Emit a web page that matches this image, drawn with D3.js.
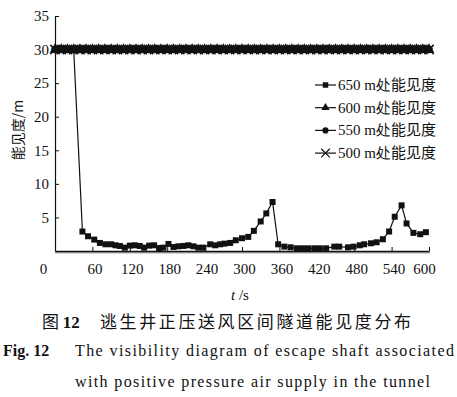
<!DOCTYPE html>
<html>
<head>
<meta charset="utf-8">
<script src="https://cdn.jsdelivr.net/npm/d3@7"></script>
<style>
  body { margin: 0; background: #fff; }
  svg text { fill: #111; }
</style>
</head>
<body>
<svg width="457" height="397"></svg>
<script>
// Data
const time650 = [0, 10, 20, 30, 44, 53, 63, 72, 81, 90, 97, 104, 112, 120, 128, 136, 143, 151, 159, 167, 174, 182,
  190, 198, 206, 214, 222, 230, 238, 249, 257, 265, 272, 281, 290, 300, 310, 319, 330, 339, 349, 358, 368, 378,
  388, 397, 406, 416, 425, 435, 448, 456, 470, 479, 489, 496, 507, 516, 526, 536, 545, 556, 564, 575, 586, 595];
const vis650 = [30, 30, 30, 30, 2.9, 2.2, 1.7, 1.2, 1.0, 1.0, 0.85, 0.75, 0.5, 0.8, 0.85, 0.75, 0.5, 0.8, 0.85, 0.45, 0.5, 1.05,
  0.6, 0.7, 0.75, 0.85, 0.7, 0.5, 0.5, 1.0, 0.85, 1.0, 1.1, 1.2, 1.6, 1.9, 2.1, 3.0, 4.4, 5.6, 7.3, 1.0, 0.65, 0.55,
  0.4, 0.4, 0.4, 0.4, 0.4, 0.4, 0.65, 0.65, 0.55, 0.65, 0.85, 1.0, 1.15, 1.3, 1.75, 2.9, 5.1, 6.8, 4.1, 2.7, 2.5, 2.8];

const timeAll = [0, 10, 20, 30, 40, 50, 60, 70, 80, 90, 100, 110, 120, 130, 140, 150, 160, 170, 180, 190, 200,
  210, 220, 230, 240, 250, 260, 270, 280, 290, 300, 310, 320, 330, 340, 350, 360, 370, 380, 390, 400,
  410, 420, 430, 440, 450, 460, 470, 480, 490, 500, 510, 520, 530, 540, 550, 560, 570, 580, 590, 600];
const vis600 = [30, 30, 30, 30, 30, 30, 30, 30, 30, 30, 30, 30, 30, 30, 30, 30, 30, 30, 30, 30, 30,
  30, 30, 30, 30, 30, 30, 30, 30, 30, 30, 30, 30, 30, 30, 30, 30, 30, 30, 30, 30,
  30, 30, 30, 30, 30, 30, 30, 30, 30, 30, 30, 30, 30, 30, 30, 30, 30, 30, 30, 30];
const vis550 = vis600.slice();
const vis500 = vis600.slice();

const xTicks = [0, 60, 120, 180, 240, 300, 360, 420, 480, 540, 600];
const yTicks = [5, 10, 15, 20, 25, 30, 35];
const legendLabels = ["650 m处能见度", "600 m处能见度", "550 m处能见度", "500 m处能见度"];

const svg = d3.select("svg");
const serif = "'Liberation Serif', 'Times New Roman', serif";
const cjk = "'Noto Sans CJK SC', sans-serif";

// Scales
const x = d3.scaleLinear().domain([0, 600]).range([55, 429]);
const y = d3.scaleLinear().domain([0, 35]).range([251, 16]);

// Axes
svg.append("line")
  .attr("x1", 55).attr("x2", 430).attr("y1", 252.5).attr("y2", 252.5)
  .attr("stroke", "#aaa").attr("stroke-width", 2);

const xAxis = svg.append("g")
  .attr("transform", "translate(0,251)")
  .call(d3.axisBottom(x).tickValues(xTicks).tickSizeInner(-4).tickSizeOuter(0).tickPadding(12));
xAxis.select(".domain").attr("stroke", "#111").attr("stroke-width", 1.5);
xAxis.selectAll(".tick line").attr("stroke", "#111");
xAxis.selectAll(".tick text")
  .attr("font-family", serif).attr("font-size", 15).attr("fill", "#111")
  .attr("dx", d => d === 0 ? -12 : (d === 600 ? -5 : 2));

const yAxis = svg.append("g")
  .attr("transform", "translate(55,0)")
  .call(d3.axisLeft(y).tickValues(yTicks).tickSizeInner(-4).tickSizeOuter(0).tickPadding(6));
yAxis.select(".domain").attr("stroke", "#111").attr("stroke-width", 1.2);
yAxis.selectAll(".tick line").attr("stroke", "#111");
yAxis.selectAll(".tick text")
  .attr("font-family", serif).attr("font-size", 15).attr("fill", "#111");

// Axis titles
svg.append("text")
  .attr("transform", "translate(23,130) rotate(-90)")
  .attr("text-anchor", "middle")
  .attr("font-family", cjk).attr("font-size", 14)
  .text("能见度/m");

const xt = svg.append("text")
  .attr("x", 240).attr("y", 300)
  .attr("text-anchor", "middle")
  .attr("font-family", serif).attr("font-size", 15);
xt.append("tspan").attr("font-style", "italic").text("t");
xt.append("tspan").text(" /s");

// Series
const line = d3.line().x(d => x(d[0])).y(d => y(d[1]));

function drawSeries(times, vals, marker) {
  const pts = times.map((t, i) => [t, vals[i]]);
  svg.append("path").datum(pts)
    .attr("d", line).attr("fill", "none").attr("stroke", "#111").attr("stroke-width", 1.2);
  const g = svg.append("g");
  if (marker === "x") {
    g.selectAll("path").data(pts).enter().append("path")
      .attr("d", d3.symbol(d3.symbolTimes, 60))
      .attr("transform", d => `translate(${x(d[0])},${y(d[1])})`)
      .attr("fill", "none").attr("stroke", "#111").attr("stroke-width", 1.5);
  } else {
    const sym = marker === "square" ? d3.symbolSquare : marker === "triangle" ? d3.symbolTriangle : d3.symbolCircle;
    const size = marker === "square" ? 36 : (marker === "triangle" ? 50 : 44);
    g.selectAll("path").data(pts).enter().append("path")
      .attr("d", d3.symbol(sym, size))
      .attr("transform", d => `translate(${x(d[0])},${y(d[1])})`)
      .attr("fill", "#111");
  }
}

drawSeries(timeAll, vis500, "x");
drawSeries(timeAll, vis550, "circle");
drawSeries(timeAll, vis600, "triangle");
drawSeries(time650, vis650, "square");

// Legend
const markers = ["square", "triangle", "circle", "x"];
legendLabels.forEach((lab, i) => {
  const ly = 85 + i * 22.7;
  svg.append("line").attr("x1", 315).attr("x2", 336).attr("y1", ly).attr("y2", ly)
    .attr("stroke", "#111").attr("stroke-width", 1.2);
  const m = markers[i];
  const sym = m === "square" ? d3.symbolSquare : m === "triangle" ? d3.symbolTriangle : m === "circle" ? d3.symbolCircle : d3.symbolTimes;
  svg.append("path")
    .attr("d", d3.symbol(sym, m === "x" ? 50 : 30))
    .attr("transform", `translate(325.5,${ly})`)
    .attr("fill", m === "x" ? "none" : "#111")
    .attr("stroke", m === "x" ? "#111" : "none").attr("stroke-width", 1.2);
  const t = svg.append("text").attr("x", 338).attr("y", ly + 5).attr("font-size", 15);
  t.append("tspan").attr("font-family", serif).text(lab.slice(0, 6));
  t.append("tspan").attr("font-family", cjk).attr("font-size", 15).text(lab.slice(6));
});

// Caption
const cap = svg.append("text").attr("x", 42).attr("y", 328).attr("font-size", 17);
cap.append("tspan").attr("font-family", cjk).text("图 ");
cap.append("tspan").attr("font-family", serif).attr("font-weight", "bold").text("12");
cap.append("tspan").attr("x", 100).attr("font-family", cjk).attr("letter-spacing", 2.6).text("逃生井正压送风区间隧道能见度分布");

svg.append("text").attr("x", 3).attr("y", 356)
  .attr("font-family", serif).attr("font-weight", "bold").attr("font-size", 16).text("Fig. 12");
svg.append("text").attr("x", 75).attr("y", 356)
  .attr("font-family", serif).attr("font-size", 16).attr("textLength", 379)
  .text("The visibility diagram of escape shaft associated");
svg.append("text").attr("x", 75).attr("y", 387)
  .attr("font-family", serif).attr("font-size", 16).attr("textLength", 355)
  .text("with positive pressure air supply in the tunnel");
</script>
</body>
</html>
